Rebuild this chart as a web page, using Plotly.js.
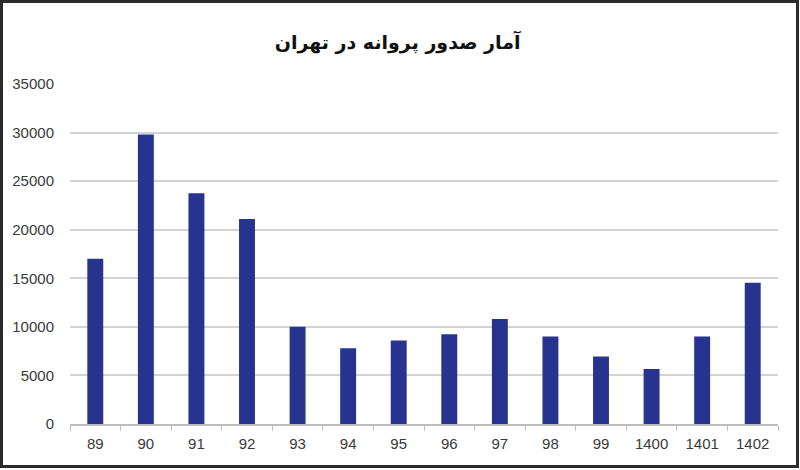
<!DOCTYPE html>
<html>
<head>
<meta charset="utf-8">
<script src="https://cdn.plot.ly/plotly-3.0.1.min.js"></script>
<style>
  body { margin: 0; background: #fff; }
  #wrap { position: relative; width: 800px; height: 470px; }
  #chart { width: 800px; height: 470px; }
  #frame {
    position: absolute; left: 0; top: 0; width: 799px; height: 468px;
    box-sizing: border-box; border: 3px solid #2b2b2b; pointer-events: none;
  }
</style>
</head>
<body>
<div id="wrap">
  <div id="chart"></div>
  <div id="frame"></div>
</div>
<script>
// years (Persian calendar) and number of permits issued
var years = ['89', '90', '91', '92', '93', '94', '95', '96', '97', '98', '99', '1400', '1401', '1402'];
var permits = [17000, 29800, 23750, 21100, 10000, 7800, 8600, 9250, 10800, 9000, 6950, 5650, 9000, 14550];
var yTicks = [0, 5000, 10000, 15000, 20000, 25000, 30000, 35000];

var trace = {
    x: years,
    y: permits,
    type: 'bar',
    marker: { color: '#27348f' },
    hoverinfo: 'x+y'
};

var layout = {
    width: 800,
    height: 470,
    title: {
        text: '<b>آمار صدور پروانه در تهران</b>',
        font: { family: 'DejaVu Sans', size: 19, color: '#111' },
        x: 0.497,
        xanchor: 'center',
        y: 0.91,
        yanchor: 'middle'
    },
    bargap: 0.685,
    showlegend: false,
    paper_bgcolor: '#fff',
    plot_bgcolor: '#fff',
    margin: { l: 70, r: 22, t: 84, b: 46 },
    xaxis: {
        type: 'category',
        showline: true,
        linecolor: '#bdbdbd',
        linewidth: 1.5,
        ticks: 'outside',
        tickson: 'boundaries',
        ticklen: 5,
        tickcolor: '#bdbdbd',
        ticklabelstandoff: 5,
        tickfont: { family: 'Liberation Sans', size: 15, color: '#3a3a3a' },
        showgrid: false
    },
    yaxis: {
        range: [0, 35000],
        tickvals: yTicks,
        ticktext: yTicks.map(String),
        showgrid: true,
        gridcolor: '#d3d3d3',
        gridwidth: 2,
        zeroline: false,
        showline: false,
        ticks: 'outside',
        ticklen: 12,
        tickcolor: 'rgba(0,0,0,0)',
        tickfont: { family: 'Liberation Sans', size: 15, color: '#3a3a3a' }
    }
};

Plotly.newPlot('chart', [trace], layout, { displayModeBar: false });
</script>
</body>
</html>
